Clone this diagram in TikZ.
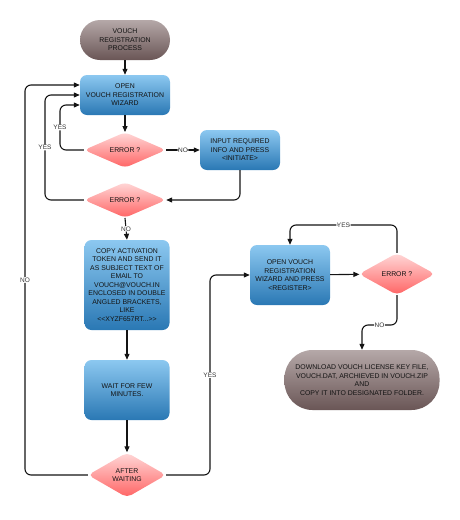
\documentclass[tikz,border=0pt]{standalone}
\usepackage{fontspec}
\setmainfont{Liberation Sans}
\usetikzlibrary{shapes.geometric,arrows.meta}
\definecolor{bluetop}{HTML}{8CC8F0}
\definecolor{bluebot}{HTML}{2A78B4}
\definecolor{browntop}{HTML}{B5A8A8}
\definecolor{brownbot}{HTML}{6A5656}
\definecolor{pinktop}{HTML}{FFD8D8}
\definecolor{pinkbot}{HTML}{FF6464}
\definecolor{ink}{HTML}{141414}
\tikzset{
  x=1pt,y=-1pt,
  txt/.style={font=\fontsize{6.9}{8.5}\selectfont, text=ink, align=center, inner sep=1pt},
  procbox/.style={txt, rectangle, rounded corners=7pt, top color=bluetop, bottom color=bluebot},
  termbox/.style={txt, rectangle, rounded corners=20pt, top color=browntop, bottom color=brownbot},
  decbox/.style={txt, diamond, rounded corners=5pt, inner sep=0pt, top color=pinktop, bottom color=pinkbot},
  conn/.style={draw=ink, line width=1.1pt, rounded corners=6pt},
  arr/.style={conn, -{Triangle[length=6pt,width=5pt]}},
  lbl/.style={font=\fontsize{6.5}{7}\selectfont, text=ink!85, fill=white, inner sep=0.5pt},
}
\begin{document}
\begin{tikzpicture}
\useasboundingbox (0,0) rectangle (460,520);
\node[termbox, minimum width=90pt, minimum height=40pt] (start) at (125,40) {VOUCH\\REGISTRATION\\PROCESS};
\node[procbox, minimum width=90pt, minimum height=40pt] (wizard) at (125,95) {OPEN\\VOUCH REGISTRATION\\WIZARD};
\node[decbox, minimum width=82pt, minimum height=35pt] (err1) at (125,150) {ERROR ?};
\node[procbox, minimum width=80pt, minimum height=40pt] (input) at (240,150) {INPUT REQUIRED\\INFO AND PRESS\\<INITIATE>};
\node[decbox, minimum width=82pt, minimum height=35pt] (err2) at (125,200) {ERROR ?};
\node[procbox, minimum width=85pt, minimum height=90pt] (copy) at (127,285) {COPY ACTIVATION\\TOKEN AND SEND IT\\AS SUBJECT TEXT OF\\EMAIL TO\\VOUCH@VOUCH.IN\\ENCLOSED IN DOUBLE\\ANGLED BRACKETS,\\LIKE\\<{}<XYZF657RT...>{}>};
\node[procbox, minimum width=85pt, minimum height=60pt] (wait) at (127,390) {WAIT FOR FEW\\MINUTES.};
\node[decbox, minimum width=78pt, minimum height=45pt] (after) at (127,475) {AFTER\\WAITING};
\node[procbox, minimum width=80pt, minimum height=60pt] (reg) at (290,275) {OPEN VOUCH\\REGISTRATION\\WIZARD AND PRESS\\<REGISTER>};
\node[decbox, minimum width=76pt, minimum height=42pt] (err3) at (397,274) {ERROR ?};
\node[termbox, rounded corners=28pt, minimum width=155pt, minimum height=60pt] (dl) at (362,380) {DOWNLOAD VOUCH LICENSE KEY FILE,\\VOUCH.DAT, ARCHIEVED IN VOUCH.ZIP\\AND\\COPY IT INTO DESIGNATED FOLDER.};

\draw[arr] (start) -- (wizard);
\draw[arr] (wizard) -- (err1);
\draw[arr] (err1.west) -- (60,150) -- node[lbl]{YES} (60,105) -- (wizard.west |- 0,105);
\draw[arr] (err2.west) -- (45,200) -- node[lbl]{YES} (45,95) -- (wizard.west |- 0,95);
\draw[arr] (after.west) -- (25,475) -- node[lbl]{NO} (25,85) -- (wizard.west |- 0,85);
\draw[arr] (err1.east) -- node[lbl]{NO} (input.west);
\draw[arr] (input.south) -- (240,200) -- (err2.east);
\draw[arr] (err2.south) -- node[lbl]{NO} (copy.north);
\draw[arr] (copy) -- (wait);
\draw[arr] (wait) -- (after);
\draw[arr] (after.east) -- (210,475) -- node[lbl]{YES} (210,275) -- (reg.west);
\draw[arr] (reg) -- (err3);
\draw[arr] (err3.north) -- (397,225) -- node[lbl]{YES} (290,225) -- (reg.north);
\draw[arr] (err3.south) -- (397,325) -- node[lbl]{NO} (362,325) -- (dl.north);
\end{tikzpicture}
\end{document}
